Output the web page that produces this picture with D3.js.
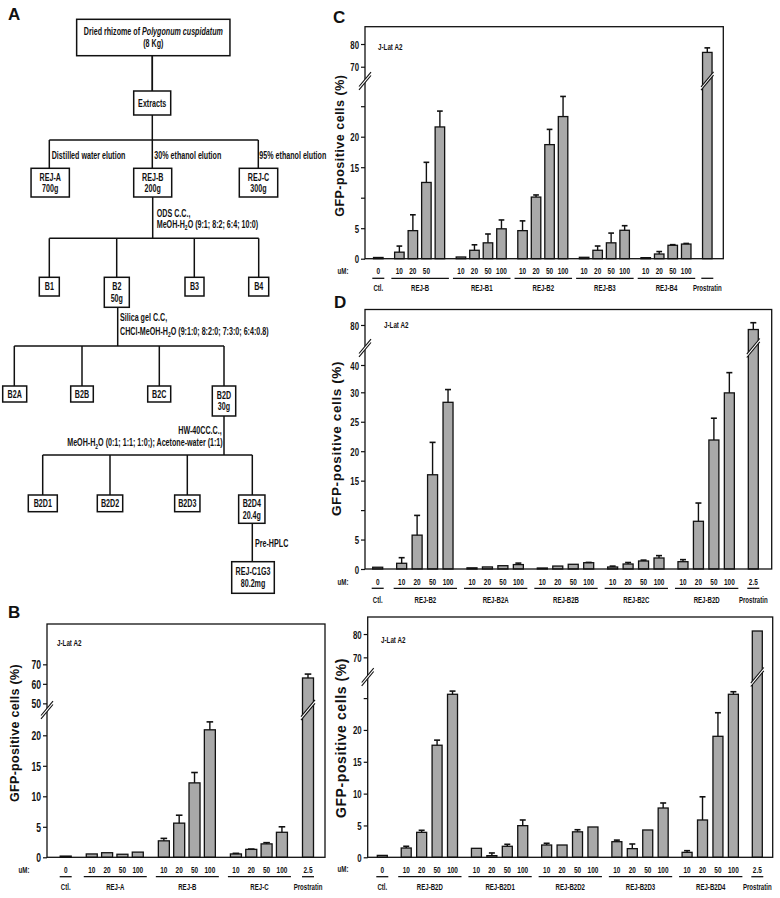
<!DOCTYPE html>
<html lang="en">
<head>
<meta charset="UTF-8">
<title>Polygonum cuspidatum fractions - GFP-positive cells</title>
<script src="https://d3js.org/d3.v7.min.js"></script>
<style>
  body { margin: 0; background: #fff; }
  svg text { font-family: "Liberation Sans", Arial, sans-serif; fill: #111; }
</style>
</head>
<body>
<div id="fig"></div>
<script>
// ---------- panel B ----------
const bGroups = ["Ctl.", "REJ-A", "REJ-B", "REJ-C", "Prostratin"];
const bDoses = [["0"], ["10", "20", "50", "100"], ["10", "20", "50", "100"], ["10", "20", "50", "100"], ["2.5"]];
const bMeans = [[0.2], [0.55, 0.75, 0.5, 0.85], [2.7, 5.6, 12.2, 20.9], [0.55, 1.3, 2.2, 4.1], [63]];
const bErrors = [[0], [0, 0, 0, 0], [0.4, 1.3, 1.7, 1.3], [0.1, 0.05, 0.2, 0.9], [2]];
const bTicks = [0, 5, 10, 15, 20, 50, 60, 70];
const bTickLabels = ["0", "5", "10", "15", "20", "50", "60", "70"];

// ---------- panel C ----------
const cGroups = ["Ctl.", "REJ-B", "REJ-B1", "REJ-B2", "REJ-B3", "REJ-B4", "Prostratin"];
const cDoses = [["0"], ["10", "20", "50", ""], ["10", "20", "50", "100"], ["10", "20", "50", "100"],
                ["10", "20", "50", "100"], ["10", "20", "50", "100"], [""]];
const cMeans = [[0.2], [1.07, 4.6, 12.5, 21.6], [0.28, 1.38, 2.6, 4.9], [4.6, 10.1, 18.7, 23.3],
                [0.23, 1.38, 2.6, 4.66], [0.17, 0.77, 2.2, 2.4], [76.3]];
const cErrors = [[0], [1.0, 2.6, 3.3, 2.6], [0, 0.9, 1.45, 1.45], [1.6, 0.35, 2.5, 3.3],
                 [0, 0.7, 1.6, 0.75], [0, 0.4, 0.1, 0.1], [2]];
const cTicks = [0, 5, 10, 15, 20, 25, 70, 80];
const cTickLabels = ["0", "5", "", "15", "20", "", "70", "80"];

// ---------- panel D (top) ----------
const dGroups = ["Ctl.", "REJ-B2", "REJ-B2A", "REJ-B2B", "REJ-B2C", "REJ-B2D", "Prostratin"];
const dDoses = [["0"], ["10", "20", "50", "100"], ["10", "20", "50", "100"], ["10", "20", "50", "100"],
                ["10", "20", "50", "100"], ["10", "20", "50", "100"], ["2.5"]];
const dMeans = [[0.3], [0.97, 5.75, 16.0, 28.3], [0.2, 0.35, 0.56, 0.75], [0.17, 0.5, 0.8, 1.07],
                [0.34, 0.85, 1.36, 1.87], [1.24, 8.1, 21.9, 29.9], [78]];
const dErrors = [[0], [0.95, 3.35, 5.5, 2.7], [0, 0, 0, 0.25], [0, 0, 0, 0.05],
                 [0.15, 0.25, 0.15, 0.4], [0.35, 3.1, 3.7, 7.3], [3]];
const dTicks = [0, 5, 10, 15, 20, 25, 30, 40, 80];
const dTickLabels = ["0", "5", "", "15", "20", "25", "30", "40", "80"];

// ---------- panel D (bottom) ----------
const eGroups = ["Ctl.", "REJ-B2D", "REJ-B2D1", "REJ-B2D2", "REJ-B2D3", "REJ-B2D4", "Prostratin"];
const eDoses = dDoses;
const eMeans = [[0.3], [1.46, 3.92, 17.6, 25.6], [1.41, 0.26, 1.73, 4.97], [1.93, 1.93, 4.0, 4.76],
                [2.45, 1.36, 4.29, 7.74], [0.78, 5.86, 19.0, 25.6], [81.3]];
const eErrors = [[0], [0.27, 0.32, 0.8, 0.5], [0, 0.42, 0.31, 0.89], [0.27, 0, 0.33, 0],
                 [0.25, 0.73, 0, 0.79], [0.26, 3.64, 3.7, 0.4], [0]];
const eTicks = [0, 5, 10, 15, 20, 25, 70, 80];
const eTickLabels = ["0", "5", "10", "15", "20", "", "70", "80"];

const svg = d3.select("#fig").append("svg").attr("width", 780).attr("height", 898);
const BAR = "#a9a9a9";

// condensed bold text helper (scaleX squeezes Arial-like glyphs)
function txt(g, x, y, s, o = {}) {
    const t = g.append("text")
        .attr("transform", `translate(${x},${y}) scale(${o.sx ?? 0.68},1)`)
        .attr("text-anchor", o.anchor || "start")
        .attr("dy", "0.35em")
        .style("font-size", (o.size || 10) + "px")
        .style("font-weight", o.weight || "bold");
    if (typeof s === "string") t.text(s);
    else s.forEach(seg => {
        const ts = t.append("tspan").text(seg.t);
        if (seg.i) ts.style("font-style", "italic");
        if (seg.sub) ts.attr("dy", 2.5).style("font-size", "0.7em");
        if (seg.after) ts.attr("dy", -2.5);
    });
    return t;
}

function brk(g, cx, cy, hw) {
    const r = hw * 1.2, k = 1.7;
    g.append("polygon")
        .attr("points", [[cx - hw, cy + r - k], [cx + hw, cy - r - k], [cx + hw, cy - r + k], [cx - hw, cy + r + k]].join(" "))
        .attr("fill", "#fff");
    [-k, k].forEach(o => g.append("line")
        .attr("x1", cx - hw).attr("y1", cy + r + o).attr("x2", cx + hw).attr("y2", cy - r + o)
        .attr("stroke", "#111").attr("stroke-width", 1.1));
}

function drawPanel(p) {
    const g = svg.append("g");
    const bars = [];
    let s = 0;
    p.means.forEach((grp, gi) => grp.forEach((v, j) => {
        if (bars.length) s += (j === 0 ? p.gap : 1);
        bars.push({gi, j, slot: s, v, e: p.errors[gi][j], dose: p.doses[gi][j]});
    }));
    const x = d3.scaleLinear().domain([0, s]).range([p.xFirst, p.xLast]);
    const y = d3.scaleLinear().domain(p.yDomain).range(p.yRange);
    const f = p.frame;
    const breakV = p.yDomain[p.yDomain.length - 2];

    g.append("text")
        .attr("transform", `translate(${p.title.x},${p.title.y}) rotate(-90)`)
        .attr("text-anchor", "middle").attr("dy", "0.35em")
        .style("font-size", p.title.size + "px").style("font-weight", "bold")
        .style("letter-spacing", p.title.ls + "px")
        .text("GFP-positive cells (%)");

    g.selectAll("rect.bar").data(bars).join("rect").attr("class", "bar")
        .attr("x", d => x(d.slot) - p.bw / 2).attr("width", p.bw)
        .attr("y", d => y(d.v)).attr("height", d => y(0) - y(d.v))
        .attr("fill", BAR).attr("stroke", "#111").attr("stroke-width", 1.3);

    const eb = bars.filter(d => d.e > 0);
    g.selectAll("line.err").data(eb).join("line").attr("class", "err")
        .attr("x1", d => x(d.slot)).attr("x2", d => x(d.slot))
        .attr("y1", d => y(d.v)).attr("y2", d => y(d.v + d.e))
        .attr("stroke", "#111").attr("stroke-width", 1.4);
    g.selectAll("line.cap").data(eb).join("line").attr("class", "cap")
        .attr("x1", d => x(d.slot) - p.bw * 0.3).attr("x2", d => x(d.slot) + p.bw * 0.3)
        .attr("y1", d => y(d.v + d.e)).attr("y2", d => y(d.v + d.e))
        .attr("stroke", "#111").attr("stroke-width", 1.6);

    g.append("rect").attr("x", f.x0).attr("y", f.top)
        .attr("width", f.x1 - f.x0).attr("height", y(0) - f.top)
        .attr("fill", "none").attr("stroke", "#111").attr("stroke-width", 1.3);

    bars.filter(d => d.v > breakV).forEach(d => brk(g, x(d.slot), p.breakY, p.bw / 2 + 1.5));
    brk(g, f.x0, p.breakY, 6);

    // y axis ticks via d3.axisLeft, glyphs condensed afterwards
    const ax = g.append("g").attr("transform", `translate(${f.x0},0)`)
        .call(d3.axisLeft(y).tickValues(p.ticks).tickFormat((d, i) => p.tickLabels[i]).tickSize(4).tickPadding(2));
    ax.select(".domain").remove();
    ax.selectAll(".tick line").attr("stroke", "#111").attr("stroke-width", 1.2);
    ax.selectAll(".tick text")
        .attr("x", null).attr("dy", "0.35em")
        .attr("transform", `translate(-6,0) scale(${p.tickSx},1)`)
        .attr("fill", "#111")
        .style("font-family", '"Liberation Sans", Arial, sans-serif')
        .style("font-size", p.tickSize + "px").style("font-weight", "bold");

    // x categories
    txt(g, p.umX, p.doseY, "uM:", {anchor: "middle", size: 9});
    bars.forEach(d => { if (d.dose) txt(g, x(d.slot), p.doseY, d.dose, {anchor: "middle", size: 9.5}); });
    p.groups.forEach((name, gi) => {
        const gb = bars.filter(d => d.gi === gi);
        const single = gb.length === 1;
        const a = x(gb[0].slot) - (single ? 6 : 8), b = x(gb[gb.length - 1].slot) + (single ? 6 : 9);
        g.append("line").attr("x1", a).attr("x2", b).attr("y1", p.lineY).attr("y2", p.lineY)
            .attr("stroke", "#111").attr("stroke-width", 1.3);
        txt(g, (a + b) / 2, p.groupY, name, {anchor: "middle", size: 9.5, sx: 0.64});
    });

    txt(g, p.cell.x, p.cell.y, "J-Lat  A2", {size: 9.5, sx: 0.66});
    if (p.letter) txt(g, p.letter.x, p.letter.y, p.letter.t, {size: 17, sx: 1});
}

drawPanel({groups: bGroups, doses: bDoses, means: bMeans, errors: bErrors, ticks: bTicks, tickLabels: bTickLabels,
    frame: {x0: 47, x1: 325, top: 624}, xFirst: 65.7, xLast: 308, gap: 1.7, bw: 11,
    yDomain: [0, 24, 47, 100], yRange: [857.3, 710.9, 709.2, 605.8], breakY: 710,
    tickSize: 13, tickSx: 0.66, umX: 24, doseY: 870, lineY: 876.7, groupY: 887,
    title: {x: 15, y: 733, size: 12.5, ls: 0.3}, cell: {x: 57, y: 643}, letter: {x: 8, y: 612, t: "B"}});

drawPanel({groups: cGroups, doses: cDoses, means: cMeans, errors: cErrors, ticks: cTicks, tickLabels: cTickLabels,
    frame: {x0: 365, x1: 723.3, top: 26.7}, xFirst: 378.3, xLast: 707.3, gap: 1.56, bw: 9.5,
    yDomain: [0, 28, 66, 100], yRange: [258.7, 87.9, 75.8, -1.4], breakY: 81,
    tickSize: 11.5, tickSx: 0.68, umX: 343, doseY: 270.7, lineY: 278.3, groupY: 287.3,
    title: {x: 339.3, y: 145.7, size: 12.5, ls: 0.5}, cell: {x: 378, y: 46.7}, letter: {x: 333, y: 17, t: "C"}});

drawPanel({groups: dGroups, doses: dDoses, means: dMeans, errors: dErrors, ticks: dTicks, tickLabels: dTickLabels,
    frame: {x0: 365, x1: 771.7, top: 309.5}, xFirst: 377.7, xLast: 753.3, gap: 1.55, bw: 10,
    yDomain: [0, 30, 40, 45, 71, 100], yRange: [569, 392.3, 365, 351.4, 345.4, 279.6], breakY: 348,
    tickSize: 11.5, tickSx: 0.68, umX: 343, doseY: 581.7, lineY: 588.3, groupY: 599.3,
    title: {x: 336, y: 438.5, size: 13.5, ls: 0.6}, cell: {x: 384, y: 325}, letter: {x: 334, y: 302, t: "D"}});

drawPanel({groups: eGroups, doses: eDoses, means: eMeans, errors: eErrors, ticks: eTicks, tickLabels: eTickLabels,
    frame: {x0: 367.7, x1: 772.7, top: 617}, xFirst: 382.3, xLast: 757.3, gap: 1.55, bw: 10,
    yDomain: [0, 28, 62, 100], yRange: [857.3, 679, 676, 587.4], breakY: 677,
    tickSize: 11.5, tickSx: 0.68, umX: 343, doseY: 869.3, lineY: 876.7, groupY: 886.7,
    title: {x: 341, y: 738, size: 14, ls: 0.6}, cell: {x: 381, y: 640}});

// ---------- panel A: isolation scheme ----------
const fa = svg.append("g");
const flowBoxes = [
    {cx: 153.3, top: 19.3, w: 153.3, h: 36.4, lines: [[{t: "Dried rhizome of "}, {t: "Polygonum cuspidatum", i: true}], "(8 Kg)"]},
    {cx: 152.2, top: 91, w: 37, h: 24, lines: ["Extracts"]},
    {cx: 50.2, top: 168.3, w: 38.3, h: 28.7, lines: ["REJ-A", "700g"]},
    {cx: 152.7, top: 168.3, w: 38, h: 28.7, lines: ["REJ-B", "200g"]},
    {cx: 258.5, top: 168.3, w: 38.4, h: 28.7, lines: ["REJ-C", "300g"]},
    {cx: 49.3, top: 277.3, w: 20, h: 18.7, lines: ["B1"]},
    {cx: 116.8, top: 277.3, w: 25, h: 30, lines: ["B2", "50g"]},
    {cx: 194.5, top: 277.3, w: 19, h: 18.7, lines: ["B3"]},
    {cx: 258.7, top: 277.3, w: 20, h: 18.7, lines: ["B4"]},
    {cx: 14.7, top: 386, w: 24, h: 16, lines: ["B2A"]},
    {cx: 82, top: 386, w: 22.6, h: 16, lines: ["B2B"]},
    {cx: 159.2, top: 386, w: 23, h: 16, lines: ["B2C"]},
    {cx: 224, top: 386, w: 23.4, h: 30, lines: ["B2D", "30g"]},
    {cx: 42.8, top: 495, w: 29, h: 16.7, lines: ["B2D1"]},
    {cx: 110, top: 495, w: 25.4, h: 16.7, lines: ["B2D2"]},
    {cx: 187.3, top: 495, w: 25.3, h: 16.7, lines: ["B2D3"]},
    {cx: 251.8, top: 495, w: 26.3, h: 28.3, lines: ["B2D4", "20.4g"]},
    {cx: 253, top: 561.7, w: 42.6, h: 31.6, lines: ["REJ-C1G3", "80.2mg"]}
];
const flowTrees = [
    {x: 152.3, from: 55.7, bar: 140, kids: [49.3, 152.3, 258.3], to: 168.3},
    {x: 152.7, from: 197, bar: 238.3, kids: [49.3, 116.7, 194.3, 258.7], to: 277.3},
    {x: 117.7, from: 307.3, bar: 346, kids: [14.3, 82, 159.3, 224], to: 386},
    {x: 224, from: 416, bar: 455, kids: [42.7, 110, 187.3, 252.3], to: 495}
];
const ln = (x1, y1, x2, y2) => fa.append("line").attr("x1", x1).attr("y1", y1).attr("x2", x2).attr("y2", y2)
    .attr("stroke", "#111").attr("stroke-width", 1.5);
ln(152.3, 55.7, 152.3, 91);
flowTrees.forEach(t => {
    ln(t.x, t.from, t.x, t.bar);
    ln(d3.min(t.kids), t.bar, d3.max(t.kids), t.bar);
    t.kids.forEach(k => ln(k, t.bar, k, t.to));
});
ln(252.3, 523.3, 252.3, 561.7);
flowBoxes.forEach(b => {
    fa.append("rect").attr("x", b.cx - b.w / 2).attr("y", b.top).attr("width", b.w).attr("height", b.h)
        .attr("fill", "#fff").attr("stroke", "#111").attr("stroke-width", 1.5);
    const n = b.lines.length, mid = b.top + b.h / 2;
    b.lines.forEach((l, i) => txt(fa, b.cx, mid + (i - (n - 1) / 2) * 11.5, l, {anchor: "middle", size: 10.5}));
});
const sub = (a, b) => [{t: a}, {t: "2", sub: true}, {t: b, after: true}];
txt(fa, 51.7, 155.7, "Distilled water elution", {size: 10.5});
txt(fa, 154.3, 155.7, "30% ethanol elution", {size: 10.5});
txt(fa, 259.3, 155.7, "95% ethanol elution", {size: 10.5});
txt(fa, 156.7, 213.3, "ODS C.C.,", {size: 10.5});
txt(fa, 156.7, 224.3, sub("MeOH-H", "O (9:1; 8:2; 6:4; 10:0)"), {size: 10.5});
txt(fa, 120, 317.7, "Silica gel C.C,", {size: 10.5});
txt(fa, 120, 331, sub("CHCl-MeOH-H", "O (9:1:0; 8:2:0; 7:3:0; 6:4:0.8)"), {size: 10.5});
txt(fa, 221.7, 430, "HW-40CC.C.,", {size: 10.5, anchor: "end"});
txt(fa, 222.7, 442.7, sub("MeOH-H", "O (0:1; 1:1; 1:0;); Acetone-water (1:1)"), {size: 10.5, anchor: "end"});
txt(fa, 255, 543.3, "Pre-HPLC", {size: 10.5});
txt(fa, 8, 14, "A", {size: 17, sx: 1});
</script>
</body>
</html>
